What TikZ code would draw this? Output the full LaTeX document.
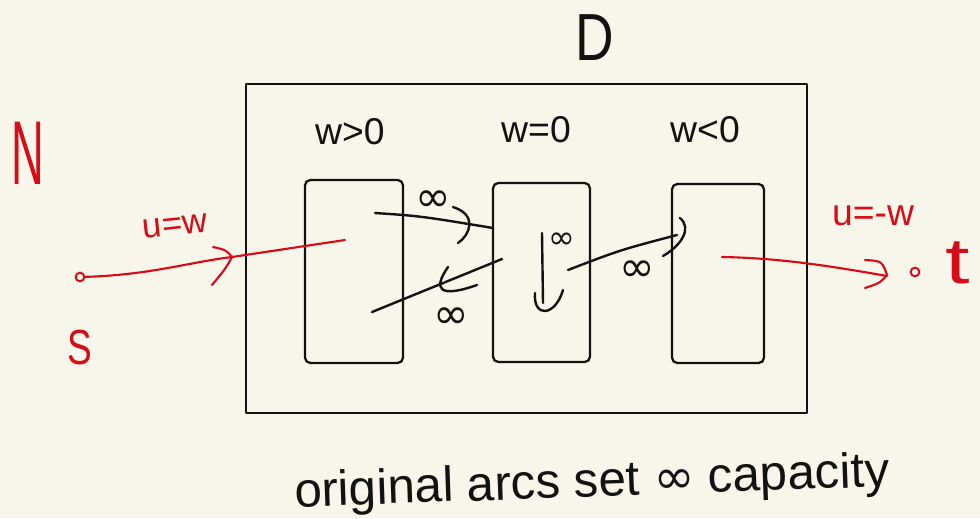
\documentclass[tikz,border=0pt]{standalone}
\usepackage{fontspec}
\setmainfont{Liberation Sans}
\newfontfamily\dv{DejaVu Sans}
\definecolor{bg}{RGB}{248,246,234}
\definecolor{pen}{RGB}{18,18,18}
\definecolor{ink}{RGB}{214,12,22}
\begin{document}
\begin{tikzpicture}[x=0.75pt,y=-0.75pt,line cap=round,line join=round,
  stroke/.style={draw=pen,line width=1.8pt},
  redstroke/.style={draw=ink,line width=1.6pt},
  boxstyle/.style={draw=pen,line width=1.7pt,rectangle,inner sep=0pt},
  colbox/.style={boxstyle,rounded corners=4pt},
  lbl/.style={text=pen,inner sep=0pt,font=\fontsize{28}{30}\selectfont},
  inf/.style={text=pen,inner sep=0pt,font=\dv\fontsize{32}{34}\selectfont},
  redlbl/.style={text=ink,inner sep=0pt},
  dot/.style={draw=ink,line width=1.5pt,circle,inner sep=0pt,minimum size=6.5pt}]
\fill[bg] (0,0) rectangle (980,518);
\useasboundingbox (0,0) rectangle (980,518);

% outer box D
\node[boxstyle,minimum width=420.75pt,minimum height=246.75pt] (D) at (526.5,248.5) {};
\node[text=pen,inner sep=0pt,font=\fontsize{50}{52}\selectfont,xscale=0.8] (Dl) at (595,38) {D};

% three columns
\node[colbox,minimum width=73.5pt,minimum height=137.25pt] (A) at (354,271.5) {};
\node[colbox,minimum width=72.75pt,minimum height=134.25pt] (B) at (541.5,272.5) {};
\node[colbox,minimum width=69pt,minimum height=134.25pt] (C) at (718,273.5) {};

\node[lbl] (la) at (350,132) {w>0};
\node[lbl] (lb) at (536,130) {w=0};
\node[lbl] (lc) at (705,130) {w<0};

% arcs inside
\coordinate (a1) at (375,213);
\coordinate (b1) at (493,228);
\draw[stroke] (a1) .. controls (420,216) .. (b1);
\draw[stroke] (453,207) .. controls (478,215) and (470,235) .. (458,243);
\node[inf] (i1) at (433,201) {∞};

\coordinate (b2) at (502,259);
\coordinate (a2) at (372,312);
\draw[stroke] (b2) -- (a2);
\draw[stroke] (448,267) .. controls (432,290) and (440,298) .. (477,285);
\node[inf] (i2) at (451,318) {∞};

\coordinate (b3) at (542,233);
\coordinate (b4) at (543,303);
\draw[stroke] (b3) -- (b4);
\draw[stroke] (535,293) .. controls (533,318) and (555,317) .. (563,290);
\node[inf,font=\dv\fontsize{24}{26}\selectfont] (i3) at (562,241) {∞};

\coordinate (b5) at (568,270);
\coordinate (c1) at (677,235);
\draw[stroke] (b5) .. controls (620,250) .. (c1);
\draw[stroke] (680,218) .. controls (692,228) and (682,245) .. (663,256);
\node[inf] (i4) at (637,271) {∞};

% red: source side
\node[text=ink,inner sep=0pt,font=\fontsize{68}{70}\selectfont,xscale=0.5] (N) at (28,153) {N};
\node[dot] (s) at (80,277) {};
\node[redlbl,font=\fontsize{37}{40}\selectfont,xscale=0.75] (S) at (80,348) {S};
\coordinate (a0) at (345,240);
\draw[redstroke] (s) .. controls (150,275) and (190,262) .. (232,257) -- (a0);
\draw[redstroke] (213,247) .. controls (226,250) .. (232,257) .. controls (226,268) .. (212,285);
\node[redlbl,font=\fontsize{26}{28}\selectfont,rotate=6] (uw) at (175,226) {u=w};

% red: sink side
\coordinate (c0) at (722,257);
\node[dot] (t) at (915,272) {};
\draw[redstroke] (c0) .. controls (780,258) and (830,266) .. (887,276);
\draw[redstroke] (865,260) .. controls (882,261) .. (887,275) .. controls (880,283) .. (865,288);
\node[redlbl,font=\fontsize{44}{46}\selectfont,xscale=1.5,yscale=1.1] (tl) at (958,263) {t};
\node[redlbl,font=\fontsize{28}{30}\selectfont] (umw) at (873,216) {u=-w};

% bottom note
\node[text=pen,inner sep=0pt,font=\fontsize{37}{40}\selectfont,rotate=2] (note) at (592,484) {original arcs set {\dv∞} capacity};
\end{tikzpicture}
\end{document}
